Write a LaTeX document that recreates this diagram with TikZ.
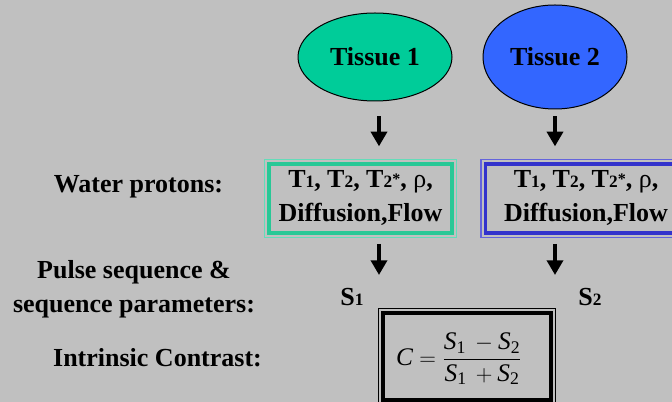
\documentclass[tikz,border=0pt]{standalone}
\usepackage{fontspec}
\usepackage{amsmath}
\setmainfont{Liberation Serif}
\usetikzlibrary{shapes.geometric,arrows.meta}

\definecolor{bgGrey}{RGB}{192,192,192}
\definecolor{tissueA}{RGB}{0,204,153}
\definecolor{tissueB}{RGB}{51,102,255}
\definecolor{frameA}{RGB}{40,200,150}
\definecolor{frameAlt}{RGB}{100,220,185}
\definecolor{frameB}{RGB}{51,51,204}
\definecolor{frameBlt}{RGB}{100,100,220}

% small lowered digit as in T1, S1
\newcommand{\lo}[1]{{\fontsize{13}{13}\selectfont #1}}
% small star after T2
\newcommand{\st}{\raisebox{2.5pt}{\fontsize{12}{12}\selectfont *}}
% italic letter from the text font inside the formula
\newcommand{\iv}[1]{\text{\itshape #1}}

\tikzset{
  big/.style={font=\fontsize{19.5}{25.5}\selectfont\bfseries},
  tissue/.style={ellipse, draw=black, line width=0.75pt, inner sep=0pt, big},
  frame/.style={draw, line width=2.5pt, inner sep=0pt, align=center, minimum height=51.75pt, big},
  arr/.style={line width=2.6pt, -{Triangle[width=12pt,length=11pt]}},
}

\begin{document}
\begin{tikzpicture}[x=0.75pt,y=0.75pt,yscale=-1,xscale=1]
\useasboundingbox (0,0) rectangle (672,402);
\clip (0,0) rectangle (672,402);
\fill[bgGrey] (0,0) rectangle (672,402);

%Shape: Ellipse [tissues]
\node[tissue, fill=tissueA, minimum width=115.5pt, minimum height=66pt] (t1) at (375,57) {Tissue 1};
\node[tissue, fill=tissueB, minimum width=108pt, minimum height=78pt] (t2) at (555,57) {Tissue 2};

%Shape: Rectangle [parameter boxes]
\node[frame, draw=frameA, minimum width=137.25pt] (p1) at (360.5,198.5)
  {T\lo{1}, T\lo{2}, T\lo{2}\st, {\mdseries ρ},\\Diffusion,Flow};
\node[frame, draw=frameB, minimum width=150.75pt] (p2) at (586,198.5)
  {T\lo{1}, T\lo{2}, T\lo{2}\st, {\mdseries ρ},\\Diffusion,Flow};
\node[frame, draw=black, minimum width=126pt, minimum height=65.25pt] (cbox) at (467,356.5) {};

%Outer thin frames
\foreach \n/\c in {p1/frameAlt, p2/frameBlt, cbox/black}
  \draw[\c, line width=1.1pt] ([shift={(-3,-3)}]\n.north west) rectangle ([shift={(3,3)}]\n.south east);

%Arrow columns
\coordinate (c1) at (379,0);
\coordinate (c2) at (555,0);

\draw[arr, shorten <=11.25pt, shorten >=12pt] (t1.south -| c1) -- (p1.north -| c1);
\draw[arr, shorten <=5.25pt, shorten >=12pt] (t2.south -| c2) -- (p2.north -| c2);
\draw[arr, shorten <=7pt] (p1.south -| c1) -- ++(0,40.3);
\draw[arr, shorten <=7pt] (p2.south -| c2) -- ++(0,40.3);

% Text Node
\node[big] (s1) at (352,297) {S\lo{1}};
% Text Node
\node[big] (s2) at (590,297) {S\lo{2}};
% Text Node
\node[font=\fontsize{19}{22}\selectfont] (eq) at (459,359)
  {$\iv{C} = \dfrac{\iv{S}_{\text{1}}\, - \iv{S}_{\text{2}}}{\iv{S}_{\text{1}}\, + \iv{S}_{\text{2}}}$};

% Text Node
\node[big, anchor=base] (water) at (138.5,193) {Water protons:};
% Text Node
\node[big, align=center, inner sep=0pt] (pulse) at (134,289.5) {Pulse sequence \&\\sequence parameters:};
% Text Node
\node[big, anchor=base] (intr) at (157.5,367) {Intrinsic Contrast:};

\end{tikzpicture}
\end{document}
